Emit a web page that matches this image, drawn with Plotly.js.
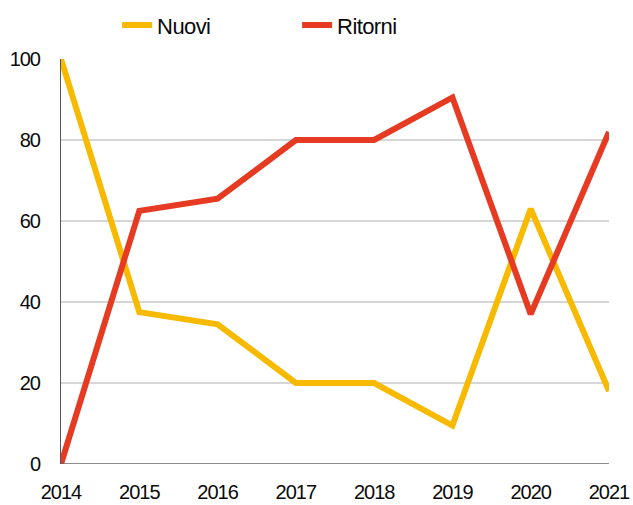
<!DOCTYPE html>
<html><head><meta charset="utf-8">
<script src="https://cdn.plot.ly/plotly-3.0.1.min.js"></script>
<style>
html,body{margin:0;padding:0;background:#fff}#c{width:633px;height:505px}
#c svg .xtick text, #c svg .ytick text{letter-spacing:-1px}
#c svg .legendtext{letter-spacing:-0.6px}
</style>
</head><body><div id="c"></div>
<script>
const years = [2014, 2015, 2016, 2017, 2018, 2019, 2020, 2021];
const nuovi = [100, 37.5, 34.5, 20, 20, 9.5, 63, 18];
const ritorni = [0, 62.5, 65.5, 80, 80, 90.5, 37, 82];
const seriesNames = ["Nuovi", "Ritorni"];
const colors = ["#F8BA00", "#E63B22"];
const yTicks = [0, 20, 40, 60, 80, 100];

const FONT = "'Liberation Sans', Arial, sans-serif";
const traces = [
  {x: years, y: nuovi, name: seriesNames[0], type: "scatter", mode: "lines",
   line: {color: colors[0], width: 6}, cliponaxis: false},
  {x: years, y: ritorni, name: seriesNames[1], type: "scatter", mode: "lines",
   line: {color: colors[1], width: 6}, cliponaxis: false}
];
const layout = {
  width: 633, height: 505,
  margin: {l: 61, r: 24, t: 59, b: 41},
  paper_bgcolor: "#fff", plot_bgcolor: "#fff",
  font: {family: FONT, size: 20, color: "#0a0a0a"},
  showlegend: true,
  legend: {orientation: "h", xref: "container", yref: "container",
           x: 0.185, xanchor: "left", y: 0.95, yanchor: "middle",
           font: {size: 22, family: FONT}, itemwidth: 30,
           entrywidth: 135, entrywidthmode: "pixels"},
  xaxis: {range: [2014, 2021], tickvals: years, ticktext: years.map(String),
          showgrid: false, zeroline: false, showline: false, ticks: "",
          tickfont: {size: 20}, ticklabelstandoff: 14},
  yaxis: {range: [0, 100], tickvals: yTicks, showgrid: true,
          gridcolor: "#d6d6d6", gridwidth: 1.5, zeroline: false, showline: true,
          linecolor: "#555", linewidth: 1, ticks: "", tickfont: {size: 20},
          ticklabelstandoff: 16},
  shapes: [{type: "line", xref: "paper", yref: "y", x0: 0, x1: 1, y0: 0, y1: 0,
            line: {color: "#666", width: 1.5}, layer: "above"}]
};
Plotly.newPlot("c", traces, layout, {displayModeBar: false, staticPlot: true});
</script></body></html>
